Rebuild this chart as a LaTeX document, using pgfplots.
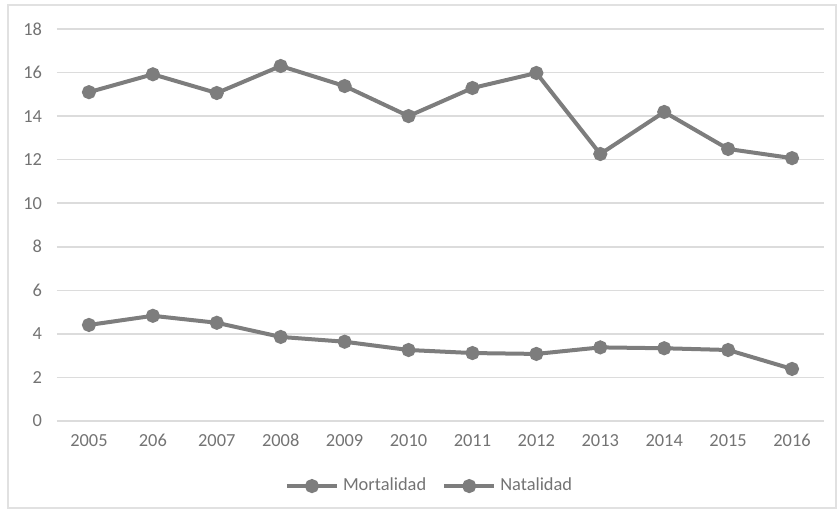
\documentclass[border=0pt]{standalone}
\usepackage{pgfplots}
\pgfplotsset{compat=1.18}
\usepackage{fontspec}
\setmainfont{Carlito}
\definecolor{serie}{RGB}{125,125,125}
\definecolor{gridc}{RGB}{220,220,220}
\definecolor{tickc}{RGB}{115,115,115}
\definecolor{framec}{RGB}{225,225,225}
\begin{document}
\begin{tikzpicture}
\useasboundingbox (-28.5pt,-45.5pt) rectangle (391pt,210.5pt);
\begin{axis}[
  scale only axis,
  width=383.5pt, height=196pt,
  at={(0,0)}, anchor=south west,
  xmin=-0.5, xmax=11.5,
  ymin=0, ymax=18,
  xtick={0,...,11},
  xticklabels={2005,206,2007,2008,2009,2010,2011,2012,2013,2014,2015,2016},
  ytick={0,2,...,18},
  axis line style={draw=none},
  major tick length=0pt,
  ymajorgrids, xmajorgrids=false,
  grid style={draw=gridc, line width=0.8pt},
  tick label style={font=\fontsize{9.2}{10}\selectfont, text=tickc},
  /pgf/number format/assume math mode=true,
  yticklabel style={xshift=-4pt},
  xticklabel style={yshift=-3pt},
  legend style={at={(0.487,-0.166)}, anchor=center, draw=none, fill=none,
    legend columns=2, font=\fontsize{9.2}{10}\selectfont, text=tickc,
    /tikz/every even column/.append style={column sep=6pt},
    inner sep=0pt},
  legend cell align=left,
  legend image code/.code={\draw[mark repeat=2,mark phase=2,#1] plot coordinates {(0cm,0cm) (0.44cm,0cm) (0.88cm,0cm)};},
  clip=false,
]
\addplot[draw=serie, line width=2pt, mark=*, mark size=2.5pt, mark options={solid, fill=serie, draw=serie}] coordinates {
(0,4.41) (1,4.83) (2,4.51) (3,3.86) (4,3.64) (5,3.26) (6,3.12) (7,3.08) (8,3.38) (9,3.34) (10,3.26) (11,2.39)};
\addlegendentry{Mortalidad}
\addplot[draw=serie, line width=2pt, mark=*, mark size=2.5pt, mark options={solid, fill=serie, draw=serie}] coordinates {
(0,15.10) (1,15.92) (2,15.06) (3,16.30) (4,15.38) (5,14.00) (6,15.29) (7,15.98) (8,12.26) (9,14.19) (10,12.49) (11,12.07)};
\addlegendentry{Natalidad}
\end{axis}
\draw[framec, line width=0.8pt] (-24.5pt,-43.5pt) rectangle (389.5pt,208pt);
\end{tikzpicture}
\end{document}
